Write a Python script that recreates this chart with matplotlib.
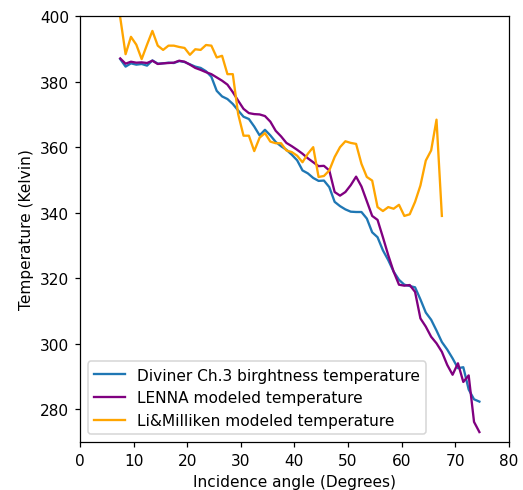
import matplotlib
matplotlib.use("Agg")
import matplotlib.pyplot as plt
import numpy as np

angle_diviner = [7.5 + i for i in range(68)]
diviner_T = [386.9, 384.6, 385.6, 385.2, 385.4, 384.9, 386.5, 385.5, 385.6, 385.8,
             385.7, 386.3, 386.0, 385.3, 384.6, 384.2, 383.2, 381.5, 377.2, 375.5,
             374.7, 373.2, 371.2, 369.3, 368.6, 366.3, 363.6, 365.3, 363.6, 361.6,
             360.3, 359.2, 357.7, 356.0, 352.9, 352.0, 350.6, 349.7, 349.8, 347.8,
             343.3, 342.0, 341.0, 340.3, 340.2, 340.2, 338.2, 334.0, 332.5, 328.5,
             325.5, 322.0, 319.5, 318.0, 317.6, 317.2, 313.5, 309.5, 307.3, 304.0,
             300.5, 298.2, 295.5, 292.5, 292.8, 286.0, 283.0, 282.3]

angle_lenna = [7.5 + i for i in range(68)]
lenna_T = [387.1, 385.5, 386.1, 385.8, 385.9, 385.7, 386.4, 385.4, 385.6, 385.7,
           385.8, 386.4, 386.1, 385.2, 384.2, 383.6, 382.9, 382.3, 381.3, 380.3,
           379.1, 376.8, 374.2, 371.7, 370.4, 370.1, 370.0, 369.5, 367.8, 365.0,
           363.3, 361.3, 360.3, 359.2, 358.0, 356.6, 355.4, 354.2, 354.3, 352.9,
           346.3, 345.2, 346.3, 348.4, 351.0, 348.0, 343.5, 339.0, 337.8, 332.5,
           327.0, 322.0, 318.0, 317.7, 317.9, 315.8, 307.7, 305.2, 302.1, 300.1,
           297.5, 293.5, 290.5, 294.0, 288.3, 290.3, 276.1, 273.0]

angle_li = [7.5 + i for i in range(61)]
li_T = [399.6, 388.4, 393.7, 391.3, 386.9, 391.3, 395.5, 391.0, 389.7, 391.0,
        391.0, 390.6, 390.3, 388.2, 389.9, 389.7, 391.2, 391.0, 387.4, 387.9,
        382.3, 382.3, 370.1, 363.5, 363.5, 358.8, 362.9, 364.3, 361.7, 361.2,
        361.2, 359.0, 358.5, 357.4, 355.4, 358.0, 360.0, 350.9, 351.2, 352.9,
        357.0, 360.0, 361.8, 361.3, 361.0, 354.9, 350.9, 349.8, 341.7, 340.5,
        341.7, 341.2, 342.4, 339.0, 339.5, 343.3, 348.3, 355.9, 359.0, 368.4,
        339.0]

dpi = 111
fig = plt.figure(figsize=(523 / dpi, 491 / dpi), dpi=dpi)
ax = fig.add_axes([0.153, 0.098, 0.82, 0.867])
ax.plot(angle_diviner, diviner_T, color='#1f77b4', label='Diviner Ch.3 birghtness temperature')
ax.plot(angle_lenna, lenna_T, color='purple', label='LENNA modeled temperature')
ax.plot(angle_li, li_T, color='orange', label='Li&Milliken modeled temperature')
ax.set_xlim(0, 80)
ax.set_ylim(270, 400)
ax.set_xlabel('Incidence angle (Degrees)')
ax.set_ylabel('Temperature (Kelvin)')
ax.legend(loc='lower left')
fig.savefig('out.png', dpi=dpi)
